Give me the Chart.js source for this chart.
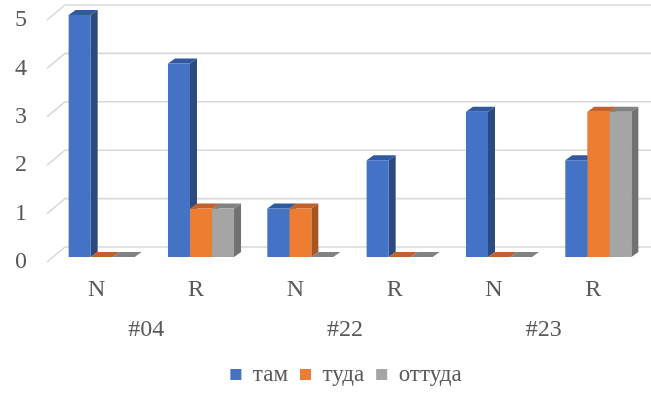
<!DOCTYPE html>
<html>
<head>
<meta charset="utf-8">
<script src="https://cdn.jsdelivr.net/npm/chart.js@4/dist/chart.umd.min.js"></script>
<style>
html,body{margin:0;padding:0;background:#fff;}
#wrap{width:651px;height:394px;position:relative;}
</style>
</head>
<body>
<div id="wrap"><canvas id="c"></canvas></div>
<script>
const categories = ['N', 'R', 'N', 'R', 'N', 'R'];
const groups = ['#04', '#22', '#23'];
const seriesNames = ['там', 'туда', 'оттуда'];
const tam = [5, 4, 1, 2, 3, 2];
const tuda = [0, 1, 1, 0, 0, 3];
const ottuda = [0, 1, 0, 0, 0, 3];
const yTicks = [0, 1, 2, 3, 4, 5];

const FRONT = ['#4472C4', '#ED7D31', '#A5A5A5'];
const TOP = ['#30599F', '#C2622A', '#828282'];
const SIDE = ['#2B4A80', '#A8561F', '#717171'];
const TEXT = '#595959';
const GRID = '#D9D9D9';
const DX = 7, DY = 5;          // bar depth
const WX = 18, WY = 15;        // wall depth
const FLOOR_OFF = 5;           // bar base sits this far behind the floor front edge
const PAD_B = -2;
const LEGEND_LEFT = 44;
const BOTTOM_SPACE = 137;
const X_H = 48;

const threeD = {
  id: 'threeD',
  beforeDraw(chart) {
    const lg = chart.legend;
    if (lg) { lg.left = LEGEND_LEFT; lg.width = lg.right - lg.left; }
  },
  beforeDatasetsDraw(chart) {
    const ctx = chart.ctx;
    const ys = chart.scales.y;
    const ca = chart.chartArea;
    ctx.save();
    ctx.strokeStyle = GRID;
    ctx.lineWidth = 1.6;
    yTicks.forEach(v => {
      const yF = ys.getPixelForValue(v) + FLOOR_OFF;
      const x0 = ca.left - 5;
      ctx.beginPath();
      ctx.moveTo(x0, yF);
      ctx.lineTo(x0 + WX, yF - WY);
      ctx.lineTo(chart.width, yF - WY);
      ctx.stroke();
    });
    chart.data.datasets.forEach((ds, di) => {
      const meta = chart.getDatasetMeta(di);
      meta.data.forEach(el => {
        const p = el.getProps(['x', 'y', 'base', 'width'], true);
        const l = p.x - p.width / 2, r = p.x + p.width / 2;
        if (p.base - p.y > 0.5) {
          ctx.fillStyle = SIDE[di];
          ctx.beginPath();
          ctx.moveTo(r, p.y);
          ctx.lineTo(r + DX, p.y - DY);
          ctx.lineTo(r + DX, p.base - DY);
          ctx.lineTo(r, p.base);
          ctx.closePath();
          ctx.fill();
        }
        ctx.fillStyle = TOP[di];
        ctx.beginPath();
        ctx.moveTo(l, p.y);
        ctx.lineTo(r, p.y);
        ctx.lineTo(r + DX, p.y - DY);
        ctx.lineTo(l + DX, p.y - DY);
        ctx.closePath();
        ctx.fill();
      });
    });
    ctx.restore();
  }
};

const font = { family: "'Liberation Serif', 'Times New Roman', serif", size: 24 };

new Chart(document.getElementById('c'), {
  type: 'bar',
  data: {
    labels: categories,
    datasets: [
      { label: seriesNames[0], data: tam, backgroundColor: FRONT[0] },
      { label: seriesNames[1], data: tuda, backgroundColor: FRONT[1] },
      { label: seriesNames[2], data: ottuda, backgroundColor: FRONT[2] }
    ]
  },
  options: {
    responsive: true,
    maintainAspectRatio: false,
    animation: false,
    layout: { padding: { top: 15, right: 3, left: 0, bottom: PAD_B } },
    datasets: { bar: { categoryPercentage: 0.665, barPercentage: 1.0, borderWidth: 0 } },
    plugins: {
      legend: {
        position: 'bottom',
        labels: {
          font: { family: font.family, size: 23 },
          color: TEXT,
          boxWidth: 11,
          boxHeight: 11,
          padding: 12
        }
      },
      tooltip: { enabled: false }
    },
    scales: {
      x: {
        type: 'category',
        grid: { display: false, drawTicks: false },
        border: { display: false },
        ticks: { font: font, color: TEXT, labelOffset: -5, padding: 18, maxRotation: 0, autoSkip: false },
        afterFit(s) { s.height = X_H; s.paddingLeft = 0; s.paddingRight = 0; }
      },
      x2: {
        type: 'category',
        position: 'bottom',
        labels: groups,
        offset: true,
        grid: { display: false, drawTicks: false },
        border: { display: false },
        ticks: { font: font, color: TEXT, labelOffset: -5, padding: 10, maxRotation: 0, autoSkip: false },
        afterFit(s) { s.height = BOTTOM_SPACE - PAD_B - X_H - s.chart.legend.height; s.paddingLeft = 0; s.paddingRight = 0; }
      },
      y: {
        min: 0,
        max: 5,
        afterBuildTicks(s) { s.ticks = yTicks.map(v => ({ value: v })); },
        grid: { display: false, drawTicks: false },
        border: { display: false },
        ticks: { font: font, color: TEXT, padding: 25, labelOffset: 5 },
        afterFit(s) { s.width = 52; s.paddingTop = 0; s.paddingBottom = 0; }
      }
    }
  },
  plugins: [threeD]
});
</script>
</body>
</html>
